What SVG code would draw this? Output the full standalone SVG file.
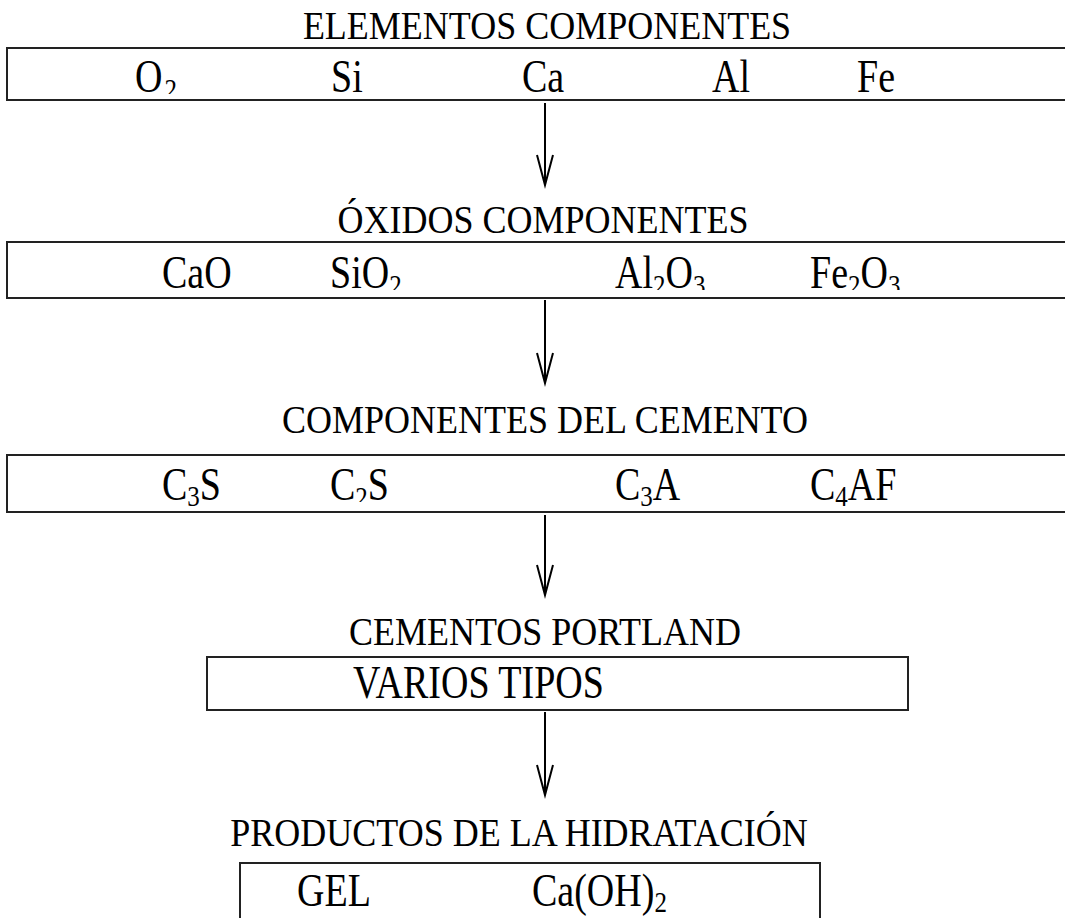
<svg xmlns="http://www.w3.org/2000/svg" width="1065" height="918" viewBox="0 0 1065 918">
<defs>
<style>
text{font-family:"Liberation Serif","Times New Roman",serif;fill:#000}
.t{font-size:36px;text-anchor:middle}
.i{font-size:38px}
.s{font-size:25px}
.box{fill:none;stroke:#222;stroke-width:2}
.arr{fill:none;stroke:#000;stroke-width:2}
</style>
<clipPath id="c1"><rect x="0" y="0" width="1065" height="94"/></clipPath>
<clipPath id="c2"><rect x="0" y="0" width="1065" height="290"/></clipPath>
<clipPath id="c3"><rect x="0" y="0" width="1065" height="502"/></clipPath>
</defs>
<rect width="1065" height="918" fill="#fff"/>
<g id="n1">
<text class="t" transform="matrix(1 0 0 1.14 547 39)">ELEMENTOS COMPONENTES</text>
<rect class="box" x="7" y="48" width="1070" height="52"/>
<g clip-path="url(#c1)"><text class="i" transform="matrix(1 0 0 1.2 135 92)">O<tspan class="s" dx="2" dy="6">2</tspan></text></g>
<text class="i" transform="matrix(1 0 0 1.2 331 92)">Si</text>
<text class="i" transform="matrix(1 0 0 1.2 522 92)">Ca</text>
<text class="i" transform="matrix(1 0 0 1.2 712 92)">Al</text>
<text class="i" transform="matrix(1 0 0 1.2 857 92)">Fe</text>
</g>
<g id="n2">
<text class="t" transform="matrix(1 0 0 1.14 543 233)">ÓXIDOS COMPONENTES</text>
<rect class="box" x="7" y="242" width="1070" height="56"/>
<text class="i" transform="matrix(1 0 0 1.2 162 288)">CaO</text>
<g clip-path="url(#c2)">
<text class="i" transform="matrix(1 0 0 1.2 330 288)">SiO<tspan class="s" dy="6">2</tspan></text>
<text class="i" transform="matrix(1 0 0 1.2 615 288)">Al<tspan class="s" dy="6">2</tspan><tspan dy="-6">O</tspan><tspan class="s" dy="6">3</tspan></text>
<text class="i" transform="matrix(1 0 0 1.2 810 288)">Fe<tspan class="s" dy="6">2</tspan><tspan dy="-6">O</tspan><tspan class="s" dy="6">3</tspan></text>
</g>
</g>
<g id="n3">
<text class="t" transform="matrix(1 0 0 1.14 545 433)">COMPONENTES DEL CEMENTO</text>
<rect class="box" x="7" y="455" width="1070" height="57"/>
<text class="i" transform="matrix(1 0 0 1.2 162 500)">C<tspan class="s" dy="5">3</tspan><tspan dy="-5">S</tspan></text>
<g clip-path="url(#c3)"><text class="i" transform="matrix(1 0 0 1.2 330 500)">C<tspan class="s" dy="6">2</tspan><tspan dy="-6">S</tspan></text></g>
<text class="i" transform="matrix(1 0 0 1.2 615 500)">C<tspan class="s" dy="5">3</tspan><tspan dy="-5">A</tspan></text>
<text class="i" transform="matrix(1 0 0 1.2 810 500)">C<tspan class="s" dy="5">4</tspan><tspan dy="-5">AF</tspan></text>
</g>
<g id="n4">
<text class="t" transform="matrix(1 0 0 1.14 545 645)">CEMENTOS PORTLAND</text>
<rect class="box" x="207" y="657" width="701" height="53"/>
<text class="i" transform="matrix(1 0 0 1.2 353 698)">VARIOS TIPOS</text>
</g>
<g id="n5">
<text class="t" transform="matrix(1 0 0 1.14 519 846)">PRODUCTOS DE LA HIDRATACIÓN</text>
<rect class="box" x="240" y="863" width="580" height="80"/>
<text class="i" transform="matrix(1 0 0 1.2 297 906)">GEL</text>
<text class="i" transform="matrix(1 0 0 1.2 532 906)">Ca(OH)<tspan class="s" dy="5">2</tspan></text>
</g>
<g id="connectors">
<path class="arr" d="M545 103V185M537 155L545 185L553 155"/>
<path class="arr" d="M545 300V383M537 353L545 383L553 353"/>
<path class="arr" d="M545 515V595M537 565L545 595L553 565"/>
<path class="arr" d="M545 712V795M537 765L545 795L553 765"/>
</g>
</svg>
